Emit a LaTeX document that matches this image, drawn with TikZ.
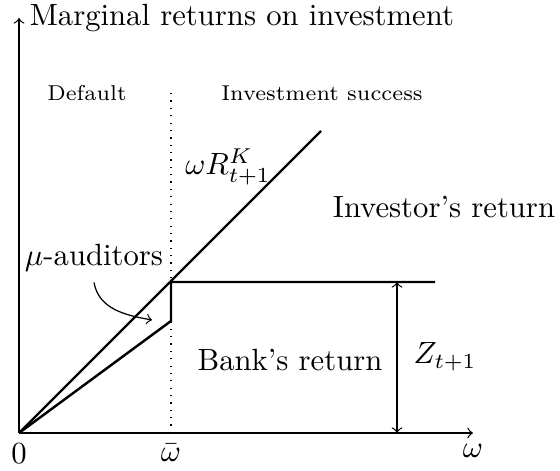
\documentclass[tikz,border=0pt]{standalone}
\usepackage{amsmath,amssymb}
\usepackage{tikz}
\usetikzlibrary{arrows,positioning,calc}

\begin{document}
\begin{tikzpicture}[x=0.326pt,y=0.326pt,
    axisline/.style={->},
    returnline/.style={thick},
    regionlabel/.style={font=\scriptsize}]
    \useasboundingbox (-19,-38) rectangle (541,433);

    % Axes
    \coordinate (O) at (0,0);
    \coordinate (xend) at (454,0);
    \coordinate (yend) at (0,415);
    \draw[axisline] (O) -- (xend) node[below] (omega) {$\omega$};
    \draw[axisline] (O) -- (yend) node[right] (ylabel) {Marginal returns on investment};
    \node[below] (zero) at (O) {$0$};

    % Default threshold
    \coordinate (wbar) at (152,0);
    \coordinate (wbartop) at (152,340);
    \draw[dotted] (wbar) -- (wbartop);
    \node[below] (wbarlabel) at (wbar) {$\bar{\omega}$};
    \node[regionlabel] (default) at (68,340) {Default};
    \node[regionlabel] (success) at (303,340) {Investment success};

    % Returns
    \coordinate (kink) at (152,151);
    \coordinate (diagend) at (302,302);
    \coordinate (flatend) at (416,151);
    \coordinate (bankkink) at (152,112);
    \draw[returnline] (O) -- (diagend);
    \draw[returnline] (O) -- (bankkink) -- (kink) -- (flatend);
    \node (wrk) at (209,266) {$\omega R^K_{t+1}$};
    \node (investor) at (425,226) {Investor's return};
    \node (bank) at (271,73) {Bank's return};

    % Z_{t+1}
    \coordinate (ztop) at (378,151);
    \coordinate (zbot) at (378,0);
    \draw[<->] (ztop) -- (zbot);
    \node (zlabel) at (426,76) {$Z_{t+1}$};

    % Monitoring cost
    \node (mu) at (75,175) {$\mu$-auditors};
    \coordinate (muend) at (133,113);
    \draw[->] (mu.south) to[out=-80,in=170] (muend);
\end{tikzpicture}
\end{document}
